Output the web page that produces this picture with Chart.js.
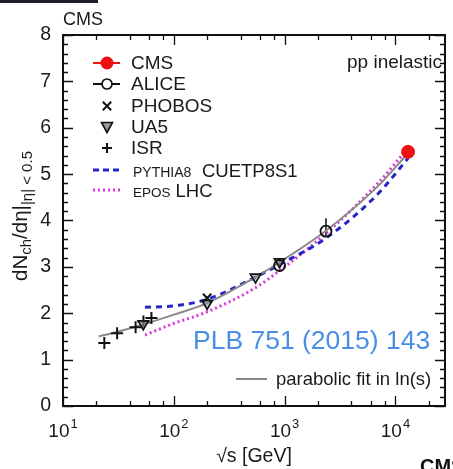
<!DOCTYPE html>
<html><head><meta charset="utf-8">
<style>html,body{margin:0;padding:0;background:#fff;overflow:hidden}#wrap{position:relative;width:453px;height:469px}</style>
<script src="https://cdn.jsdelivr.net/npm/chart.js@4.4.0/dist/chart.umd.min.js"></script>
</head><body><div id="wrap"><canvas id="c" width="453" height="469"></canvas></div>
<script>
// ---------- data ----------
const cmsX = [13000];
const cmsY = [5.48];
const cmsErrUp = [0.14];
const cmsErrDown = [0.14];

const aliceX = [900, 2360];
const aliceY = [3.03, 3.77];
const aliceErrUp = [0.10, 0.28];
const aliceErrDown = [0.06, 0.12];

const phobosX = [200];
const phobosY = [2.33];

const ua5X = [53, 200, 546, 900];
const ua5Y = [1.77, 2.21, 2.78, 3.11];

const isrX = [23.6, 30.8, 45.2, 53.2, 62.8];
const isrY = [1.36, 1.57, 1.70, 1.82, 1.90];

const fitX = [21, 30, 50, 100, 200, 546, 900, 2360, 6800, 13000];
const fitY = [1.50, 1.59, 1.74, 1.97, 2.22, 2.78, 3.10, 3.78, 4.72, 5.45];

const pythiaX = [55, 100, 200, 546, 900, 2360, 6800, 13000];
const pythiaY = [2.13, 2.16, 2.30, 2.78, 3.05, 3.62, 4.55, 5.34];

const eposX = [55, 100, 200, 546, 900, 2360, 6800, 13000];
const eposY = [1.53, 1.78, 2.03, 2.55, 2.92, 3.72, 4.78, 5.56];

const xTickValues = [10, 100, 1000, 10000];
const xTickBase = '10';
const xTickExponents = ['1', '2', '3', '4'];
const yTickValues = [0, 1, 2, 3, 4, 5, 6, 7, 8];

// ---------- styling ----------
const F = "'Liberation Sans', Arial, Helvetica, sans-serif";
const TXT = '#1a1a1a';
const pts = (xs, ys) => xs.map((x, i) => ({x: x, y: ys[i]}));

const errorBars = {
  id: 'errorBars',
  beforeDatasetsDraw(chart) {
    const ctx = chart.ctx, xs = chart.scales.x, ys = chart.scales.y;
    chart.data.datasets.forEach(ds => {
      if (!ds.errUp) return;
      ctx.save();
      ctx.strokeStyle = ds.borderColor; ctx.lineWidth = 1.5;
      ds.data.forEach((p, i) => {
        const px = xs.getPixelForValue(p.x);
        ctx.beginPath();
        ctx.moveTo(px, ys.getPixelForValue(p.y + ds.errUp[i]));
        ctx.lineTo(px, ys.getPixelForValue(p.y - ds.errDown[i]));
        ctx.stroke();
      });
      ctx.restore();
    });
  }
};

const frame = {
  id: 'frame',
  afterDatasetsDraw(chart) {
    const ctx = chart.ctx, a = chart.chartArea, xs = chart.scales.x, ys = chart.scales.y;
    ctx.save();
    ctx.strokeStyle = '#111'; ctx.lineWidth = 2;
    ctx.strokeRect(a.left, a.top, a.right - a.left, a.bottom - a.top);
    ctx.lineWidth = 1.3;
    ctx.beginPath();
    for (let v = 0; v <= 8.0001; v += 0.2) {
      const py = Math.round(ys.getPixelForValue(v)) + 0.5;
      const major = Math.abs(v - Math.round(v)) < 1e-6;
      const L = major ? 10 : 5;
      ctx.moveTo(a.left, py); ctx.lineTo(a.left + L, py);
      ctx.moveTo(a.right, py); ctx.lineTo(a.right - L, py);
    }
    xTickValues.forEach(d => {
      [1, 2, 4, 6, 8].forEach(m => {
        const v = d * m;
        if (v > xs.max) return;
        const px = Math.round(xs.getPixelForValue(v)) + 0.5;
        const L = m === 1 ? 10 : 5;
        ctx.moveTo(px, a.bottom); ctx.lineTo(px, a.bottom - L);
        ctx.moveTo(px, a.top); ctx.lineTo(px, a.top + L);
      });
    });
    ctx.stroke();
    ctx.fillStyle = TXT; ctx.textBaseline = 'alphabetic'; ctx.textAlign = 'left';
    xTickValues.forEach((v, i) => {
      const px = xs.getPixelForValue(v);
      ctx.font = '19px ' + F; const wb = ctx.measureText(xTickBase).width;
      ctx.font = '13px ' + F; const we = ctx.measureText(xTickExponents[i]).width;
      const x0 = px - (wb + we + 1) / 2;
      ctx.font = '19px ' + F; ctx.fillText(xTickBase, x0, 437);
      ctx.font = '13px ' + F; ctx.fillText(xTickExponents[i], x0 + wb + 1, 428);
    });
    ctx.restore();
  }
};

function marker(ctx, type, x, y) {
  ctx.save();
  ctx.lineWidth = 2; ctx.strokeStyle = '#111';
  ctx.beginPath();
  if (type === 'cms') {
    ctx.fillStyle = '#ee1111'; ctx.arc(x, y, 6.5, 0, Math.PI * 2); ctx.fill();
  } else if (type === 'alice') {
    ctx.fillStyle = '#fff'; ctx.lineWidth = 1.7; ctx.arc(x, y, 5, 0, Math.PI * 2); ctx.fill(); ctx.stroke();
  } else if (type === 'phobos') {
    const s = 4.2; ctx.moveTo(x - s, y - s); ctx.lineTo(x + s, y + s); ctx.moveTo(x + s, y - s); ctx.lineTo(x - s, y + s); ctx.stroke();
  } else if (type === 'ua5') {
    ctx.fillStyle = '#9a9a9a'; ctx.lineWidth = 1.6;
    ctx.moveTo(x - 5.5, y - 4.5); ctx.lineTo(x + 5.5, y - 4.5); ctx.lineTo(x, y + 5.5); ctx.closePath(); ctx.fill(); ctx.stroke();
  } else if (type === 'isr') {
    const s = 5; ctx.moveTo(x - s, y); ctx.lineTo(x + s, y); ctx.moveTo(x, y - s); ctx.lineTo(x, y + s); ctx.stroke();
  }
  ctx.restore();
}

const annotations = {
  id: 'annotations',
  afterDraw(chart) {
    const ctx = chart.ctx;
    ctx.save();
    ctx.fillStyle = '#1c1c2a'; ctx.fillRect(0, 0, 98, 3);
    ctx.fillStyle = TXT; ctx.textBaseline = 'alphabetic'; ctx.textAlign = 'left';
    ctx.font = '18px ' + F; ctx.fillText('CMS', 63, 25);
    ctx.font = '19px ' + F; ctx.fillText('pp inelastic', 347, 68);
    const lx0 = 93, lx1 = 120, mx = 107, tx = 131;
    const rows = [['cms', 'CMS', 63], ['alice', 'ALICE', 84], ['phobos', 'PHOBOS', 106], ['ua5', 'UA5', 127], ['isr', 'ISR', 148]];
    ctx.textBaseline = 'middle';
    rows.forEach(r => {
      const [t, lab, y] = r;
      if (t === 'cms' || t === 'alice') {
        ctx.save(); ctx.strokeStyle = t === 'cms' ? '#ee1111' : '#111'; ctx.lineWidth = 2;
        ctx.beginPath(); ctx.moveTo(lx0, y); ctx.lineTo(lx1, y); ctx.stroke(); ctx.restore();
      }
      marker(ctx, t, mx, y);
      ctx.fillStyle = TXT; ctx.font = '19px ' + F; ctx.fillText(lab, tx, y + 1);
    });
    ctx.save(); ctx.lineWidth = 3; ctx.strokeStyle = '#2424c8'; ctx.setLineDash([6, 4]);
    ctx.beginPath(); ctx.moveTo(lx0, 170); ctx.lineTo(lx1, 170); ctx.stroke();
    ctx.strokeStyle = '#dd33dd'; ctx.setLineDash([2, 3]);
    ctx.beginPath(); ctx.moveTo(lx0, 190); ctx.lineTo(lx1, 190); ctx.stroke(); ctx.restore();
    ctx.fillStyle = TXT; ctx.textBaseline = 'alphabetic';
    ctx.font = '14px ' + F; ctx.fillText('PYTHIA8', 133, 177);
    ctx.font = '18.5px ' + F; ctx.fillText('CUETP8S1', 202, 177);
    ctx.font = '13.5px ' + F; ctx.fillText('EPOS', 133, 197);
    const eEnd = 133 + ctx.measureText('EPOS').width;
    ctx.font = '18.5px ' + F; ctx.fillText('LHC', Math.max(174, eEnd + 5), 197);
    ctx.save(); ctx.strokeStyle = '#888'; ctx.lineWidth = 2;
    ctx.beginPath(); ctx.moveTo(236, 379); ctx.lineTo(267, 379); ctx.stroke(); ctx.restore();
    ctx.font = '18.5px ' + F; ctx.fillText('parabolic fit in ln(s)', 276, 385);
    ctx.fillStyle = '#4a8ee6'; ctx.font = '26.5px ' + F; ctx.fillText('PLB 751 (2015) 143', 193, 349);
    ctx.fillStyle = '#111'; ctx.font = 'bold 20px ' + F; ctx.fillText('CMS', 420, 473);
    ctx.translate(27, 216); ctx.rotate(-Math.PI / 2);
    const segs = [['dN', 20.5, 0], ['ch', 15, 4], ['/d\u03B7|', 20.5, 0], ['|\u03B7| < 0.5', 15, 5]];
    let tot = 0;
    segs.forEach(s => { ctx.font = s[1] + 'px ' + F; tot += ctx.measureText(s[0]).width; });
    let cx = -tot / 2;
    ctx.fillStyle = TXT;
    segs.forEach(s => { ctx.font = s[1] + 'px ' + F; ctx.fillText(s[0], cx, s[2]); cx += ctx.measureText(s[0]).width; });
    ctx.restore();
  }
};

new Chart(document.getElementById('c'), {
  type: 'scatter',
  data: {
    datasets: [
      {label: 'CMS', data: pts(cmsX, cmsY), errUp: cmsErrUp, errDown: cmsErrDown, pointStyle: 'circle', pointRadius: 6.5, backgroundColor: '#ee1111', borderColor: '#ee1111', borderWidth: 1},
      {label: 'ALICE', data: pts(aliceX, aliceY), errUp: aliceErrUp, errDown: aliceErrDown, pointStyle: 'circle', pointRadius: 5.5, backgroundColor: 'rgba(255,255,255,0)', borderColor: '#111', borderWidth: 1.8},
      {label: 'PHOBOS', data: pts(phobosX, phobosY), pointStyle: 'crossRot', pointRadius: 6, borderColor: '#111', borderWidth: 2},
      {label: 'UA5', data: pts(ua5X, ua5Y), pointStyle: 'triangle', rotation: 180, pointRadius: 6, backgroundColor: 'rgba(140,140,140,0.6)', borderColor: '#111', borderWidth: 1.6},
      {label: 'ISR', data: pts(isrX, isrY), pointStyle: 'cross', pointRadius: 6, borderColor: '#111', borderWidth: 2},
      {label: 'fit', type: 'line', data: pts(fitX, fitY), showLine: true, pointRadius: 0, borderColor: '#8a8a8a', borderWidth: 2, cubicInterpolationMode: 'monotone', fill: false},
      {label: 'PYTHIA8', type: 'line', data: pts(pythiaX, pythiaY), showLine: true, pointRadius: 0, borderColor: '#2424c8', borderWidth: 3, borderDash: [6, 5], cubicInterpolationMode: 'monotone', fill: false},
      {label: 'EPOS', type: 'line', data: pts(eposX, eposY), showLine: true, pointRadius: 0, borderColor: '#dd33dd', borderWidth: 3, borderDash: [2, 3], cubicInterpolationMode: 'monotone', fill: false}
    ]
  },
  options: {
    responsive: false, devicePixelRatio: 1, animation: false, events: [],
    layout: {padding: {left: 0, right: 3, top: 35, bottom: 0}},
    plugins: {legend: {display: false}, tooltip: {enabled: false}},
    scales: {
      x: {
        type: 'logarithmic', min: 10, max: 28000, position: 'bottom',
        grid: {display: false, drawTicks: false}, border: {display: false},
        afterBuildTicks: s => { s.ticks = xTickValues.map(v => ({value: v})); },
        afterFit: s => { s.height = 63; },
        ticks: {display: false},
        title: {display: true, text: '\u221As [GeV]', color: TXT, font: {family: F, size: 19.5}, padding: {top: 0, bottom: 1}}
      },
      y: {
        min: 0, max: 8, position: 'left',
        grid: {display: false, drawTicks: false}, border: {display: false},
        afterBuildTicks: s => { s.ticks = yTickValues.map(v => ({value: v})); },
        afterFit: s => { s.width = 63; },
        ticks: {padding: 12, color: TXT, font: {family: F, size: 19.5}}
      }
    }
  },
  plugins: [errorBars, frame, annotations]
});
</script></body></html>
